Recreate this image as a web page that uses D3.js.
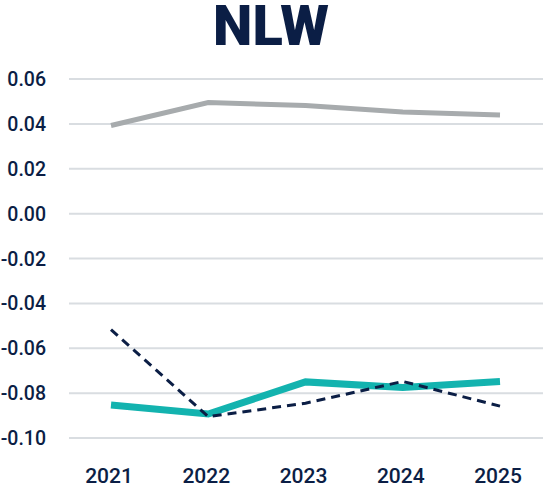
<!DOCTYPE html>
<html>
<head>
<meta charset="UTF-8">
<style>
  body { margin: 0; background: #fff; }
  text { font-family: Roboto, "Liberation Sans", sans-serif; fill: #0b1e45; }
</style>
</head>
<body>
<svg></svg>
<script src="https://d3js.org/d3.v7.min.js"></script>
<script>
let width = 543, height = 492;

// data
var years = ["2021", "2022", "2023", "2024", "2025"];
var grey = [0.0393, 0.0495, 0.0482, 0.0453, 0.0440];
var teal = [-0.0853, -0.0893, -0.0750, -0.0775, -0.0748];
var navy = [-0.0517, -0.0905, -0.0845, -0.0748, -0.0858];
var yTicks = [0.06, 0.04, 0.02, 0.00, -0.02, -0.04, -0.06, -0.08, -0.10];

let svg = d3.select("svg")
    .attr("width", width)
    .attr("height", height);

var x = d3.scalePoint()
    .domain(years)
    .range([111, 500]);

var y = d3.scaleLinear()
    .domain([-0.10, 0.06])
    .range([438, 79]);

// gridlines
svg.append("g")
  .selectAll("line")
  .data(yTicks)
  .enter()
  .append("line")
  .attr("x1", 69)
  .attr("x2", 543)
  .attr("y1", d => y(d))
  .attr("y2", d => y(d))
  .attr("stroke", "#d9dde1")
  .attr("stroke-width", 2);

// y labels (plain hyphen like the original)
svg.append("g")
  .selectAll("text")
  .data(yTicks)
  .enter()
  .append("text")
  .attr("x", 46)
  .attr("y", d => y(d) + 7)
  .attr("text-anchor", "end")
  .attr("font-size", 19.5)
  .attr("font-weight", 500)
  .text(d => d.toFixed(2));

// x labels
svg.append("g")
  .selectAll("text")
  .data(years)
  .enter()
  .append("text")
  .attr("x", d => x(d) - 2)
  .attr("y", 483)
  .attr("text-anchor", "middle")
  .attr("font-size", 21)
  .attr("font-weight", 500)
  .text(d => d);

var line = d3.line()
    .x((d, i) => x(years[i]))
    .y(d => y(d));

svg.append("path")
  .attr("d", line(grey))
  .attr("fill", "none")
  .attr("stroke", "#a7abad")
  .attr("stroke-width", 5);

svg.append("path")
  .attr("d", line(teal))
  .attr("fill", "none")
  .attr("stroke", "#13b3af")
  .attr("stroke-width", 7);

svg.append("path")
  .attr("d", line(navy))
  .attr("fill", "none")
  .attr("stroke", "#0b1e45")
  .attr("stroke-width", 3)
  .attr("stroke-dasharray", "9,6");

// title
svg.append("text")
  .attr("x", 271)
  .attr("y", 45)
  .attr("text-anchor", "middle")
  .attr("font-size", 56)
  .attr("font-weight", 900)
  .text("NLW");
</script>
</body>
</html>
